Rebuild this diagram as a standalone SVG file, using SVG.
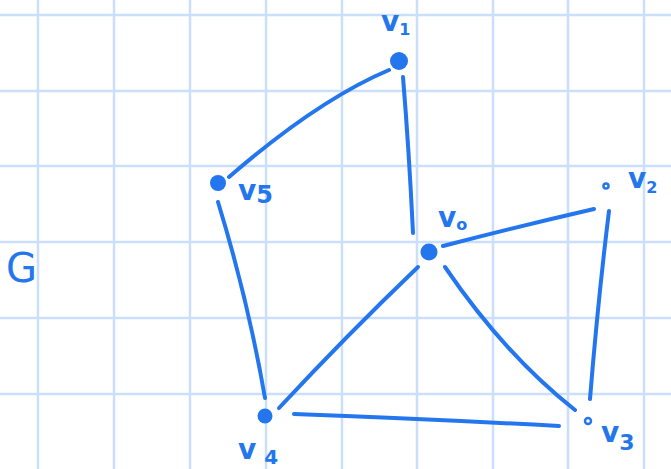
<svg xmlns="http://www.w3.org/2000/svg" width="671" height="469" viewBox="0 0 671 469">
<style>
.grid line{stroke:#c9dffb;stroke-width:2.5}
.edge{stroke:#2376ee;stroke-width:4;fill:none;stroke-linecap:round}
.dot{fill:#2376ee}
.ring{fill:none;stroke:#2376ee;stroke-width:2.5}
.lbl{font-family:"DejaVu Sans",sans-serif;fill:#2376ee;font-weight:bold}
.sub{font-size:16px}
</style>
<rect width="671" height="469" fill="#ffffff"/>
<g class="grid">
<line x1="38" y1="0" x2="38" y2="469"/><line x1="114" y1="0" x2="114" y2="469"/><line x1="190" y1="0" x2="190" y2="469"/><line x1="266" y1="0" x2="266" y2="469"/><line x1="342" y1="0" x2="342" y2="469"/><line x1="417" y1="0" x2="417" y2="469"/><line x1="493" y1="0" x2="493" y2="469"/><line x1="568" y1="0" x2="568" y2="469"/><line x1="644" y1="0" x2="644" y2="469"/>
<line x1="0" y1="15" x2="671" y2="15"/><line x1="0" y1="91" x2="671" y2="91"/><line x1="0" y1="166" x2="671" y2="166"/><line x1="0" y1="242" x2="671" y2="242"/><line x1="0" y1="318" x2="671" y2="318"/><line x1="0" y1="394" x2="671" y2="394"/>
</g>
<g id="connectors">
<path class="edge" d="M389 70 Q318 100 229 177"/>
<path class="edge" d="M403 77 Q409 150 413 233"/>
<path class="edge" d="M218 202 Q248 300 265 398"/>
<path class="edge" d="M443 246 Q520 226 594 209"/>
<path class="edge" d="M418 267 Q347 335 279 408"/>
<path class="edge" d="M445 267 Q505 355 575 410"/>
<path class="edge" d="M609 211 Q598 300 590 399"/>
<path class="edge" d="M294 414 Q430 419 559 426"/>
</g>
<g id="v1"><circle class="dot" cx="399" cy="61" r="9"/><text class="lbl" x="381" y="31" font-size="28">v<tspan class="sub" dy="4">1</tspan></text></g>
<g id="v5"><circle class="dot" cx="218" cy="183" r="8"/><text class="lbl" x="238" y="200" font-size="28">v<tspan font-size="24" dy="3">5</tspan></text></g>
<g id="v0"><circle class="dot" cx="429" cy="252" r="8.5"/><text class="lbl" x="438" y="227" font-size="28">v<tspan class="sub" dy="3">o</tspan></text></g>
<g id="v2"><circle class="ring" cx="606" cy="186" r="2.5"/><text class="lbl" x="628" y="188" font-size="28">v<tspan class="sub" dy="5">2</tspan></text></g>
<g id="v4"><circle class="dot" cx="265" cy="416" r="7.5"/><text class="lbl" x="238" y="459" font-size="28">v<tspan font-size="20" dx="8" dy="5">4</tspan></text></g>
<g id="v3"><circle class="ring" cx="588" cy="421" r="3"/><text class="lbl" x="601" y="442" font-size="28">v<tspan font-size="22" dy="8">3</tspan></text></g>
<g id="G"><text class="lbl" x="6" y="282" font-size="40" style="font-weight:normal">G</text></g>
</svg>
